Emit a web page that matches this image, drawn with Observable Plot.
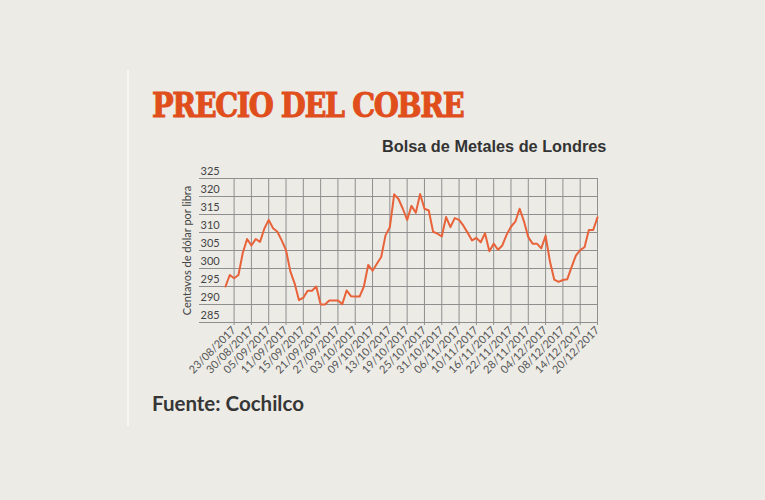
<!DOCTYPE html>
<html>
<head>
<meta charset="utf-8">
<script src="https://cdn.jsdelivr.net/npm/d3@7"></script>
<script src="https://cdn.jsdelivr.net/npm/@observablehq/plot@0.6"></script>
<style>
  html, body { margin: 0; padding: 0; background: #ecebe6; }
  #page { position: relative; width: 765px; height: 500px; overflow: hidden; background: #ecebe6; }
  #rule { position: absolute; left: 127px; top: 70px; width: 2px; height: 356px; background: #f8f7f3; }
  #title { position: absolute; left: 152px; top: 86px; font-family: "DejaVu Serif Condensed", "DejaVu Serif", serif; font-weight: bold; font-size: 33px; line-height: 40px; color: #e04e1c; letter-spacing: -1.5px; white-space: nowrap; -webkit-text-stroke: 0.9px #e04e1c; transform: scaleX(0.97); transform-origin: left center; }
  #subtitle { position: absolute; left: 382px; top: 136px; font-family: "Liberation Sans", Arial, sans-serif; font-weight: bold; font-size: 16.3px; line-height: 20px; color: #333; white-space: nowrap; }
  #chart { position: absolute; left: 140px; top: 160px; }
  #caption { position: absolute; left: 152px; top: 391px; font-family: Lato, sans-serif; font-weight: bold; font-size: 20.5px; line-height: 24px; color: #363636; white-space: nowrap; }
</style>
</head>
<body>
<div id="page">
  <div id="rule"></div>
  <div id="title">PRECIO DEL COBRE</div>
  <div id="subtitle">Bolsa de Metales de Londres</div>
  <div id="chart"></div>
  <div id="caption">Fuente: Cochilco</div>
</div>
<script>
// Trading days (LME) shown on the chart
const dates = [
  "21/08/2017","22/08/2017","23/08/2017","24/08/2017","25/08/2017","29/08/2017","30/08/2017","31/08/2017",
  "01/09/2017","04/09/2017","05/09/2017","06/09/2017","07/09/2017","08/09/2017","11/09/2017","12/09/2017",
  "13/09/2017","14/09/2017","15/09/2017","18/09/2017","19/09/2017","20/09/2017","21/09/2017","22/09/2017",
  "25/09/2017","26/09/2017","27/09/2017","28/09/2017","29/09/2017",
  "02/10/2017","03/10/2017","04/10/2017","05/10/2017","06/10/2017","09/10/2017","10/10/2017","11/10/2017",
  "12/10/2017","13/10/2017","16/10/2017","17/10/2017","18/10/2017","19/10/2017","20/10/2017","23/10/2017",
  "24/10/2017","25/10/2017","26/10/2017","27/10/2017","30/10/2017","31/10/2017",
  "01/11/2017","02/11/2017","03/11/2017","06/11/2017","07/11/2017","08/11/2017","09/11/2017","10/11/2017",
  "13/11/2017","14/11/2017","15/11/2017","16/11/2017","17/11/2017","20/11/2017","21/11/2017","22/11/2017",
  "23/11/2017","24/11/2017","27/11/2017","28/11/2017","29/11/2017","30/11/2017",
  "01/12/2017","04/12/2017","05/12/2017","06/12/2017","07/12/2017","08/12/2017","11/12/2017","12/12/2017",
  "13/12/2017","14/12/2017","15/12/2017","18/12/2017","19/12/2017","20/12/2017"
];

// Copper price, US cents per pound
const prices = [
  295.0, 298.2, 297.3, 298.2, 304.3, 308.2, 306.4, 308.2, 307.4, 311.1,
  313.5, 311.2, 310.2, 307.8, 305.1, 299.2, 295.8, 291.2, 291.9, 293.8,
  293.8, 295.0, 290.0, 290.0, 291.1, 291.1, 291.1, 290.1, 293.9, 292.3,
  292.2, 292.2, 295.0, 301.0, 299.4, 301.3, 303.2, 309.2, 311.5, 320.6,
  319.3, 316.6, 313.5, 317.4, 315.5, 320.7, 316.6, 316.1, 310.2, 309.7,
  308.9, 314.3, 311.5, 314.0, 313.5, 311.9, 309.9, 307.8, 308.5, 307.3,
  309.8, 304.8, 306.9, 305.2, 306.4, 309.4, 311.6, 313.0, 316.6, 313.1,
  308.7, 306.9, 306.9, 305.6, 309.1, 302.0, 296.9, 296.3, 296.8, 297.0,
  300.4, 303.6, 305.1, 305.9, 310.7, 310.7, 314.2
];

// Axis tick labels
const xLabels = [
  "23/08/2017","30/08/2017","05/09/2017","11/09/2017","15/09/2017","21/09/2017",
  "27/09/2017","03/10/2017","09/10/2017","13/10/2017","19/10/2017","25/10/2017",
  "31/10/2017","06/11/2017","10/11/2017","16/11/2017","22/11/2017","28/11/2017",
  "04/12/2017","08/12/2017","14/12/2017","20/12/2017"
];
const yTicks = [285, 290, 295, 300, 305, 310, 315, 320, 325];

const data = dates.map((d, k) => ({date: d, k, price: prices[k]}));
const xTicks = xLabels.map(l => dates.indexOf(l));

const gridColor = "#8f8f8f";

const chart = Plot.plot({
  width: 480,
  height: 240,
  marginLeft: 59,
  marginRight: 23,
  marginTop: 18,
  marginBottom: 78,
  style: {background: "transparent", fontFamily: "Lato, sans-serif", fontSize: "11px", color: "#444"},
  x: {type: "linear", domain: [-6, dates.length - 1]},
  y: {domain: [285, 325]},
  marks: [
    Plot.gridY(yTicks, {stroke: gridColor, strokeOpacity: 1}),
    Plot.gridX(xTicks, {stroke: gridColor, strokeOpacity: 1}),
    Plot.axisY(yTicks, {
      tickSize: 0, tickPadding: 0, dx: 1, dy: -7, textAnchor: "start",
      label: "Centavos de dólar por libra", labelAnchor: "center", labelOffset: 16, labelArrow: false,
      fill: "#444"
    }),
    Plot.axisX(xTicks, {
      tickSize: 3, tickPadding: 3, tickRotate: -45, stroke: gridColor,
      tickFormat: k => dates[k], label: null, fill: "#555"
    }),
    Plot.lineY(data, {x: "k", y: "price", stroke: "#e8623a", strokeWidth: 2, strokeLinejoin: "round"})
  ]
});
document.getElementById("chart").appendChild(chart);
</script>
</body>
</html>
